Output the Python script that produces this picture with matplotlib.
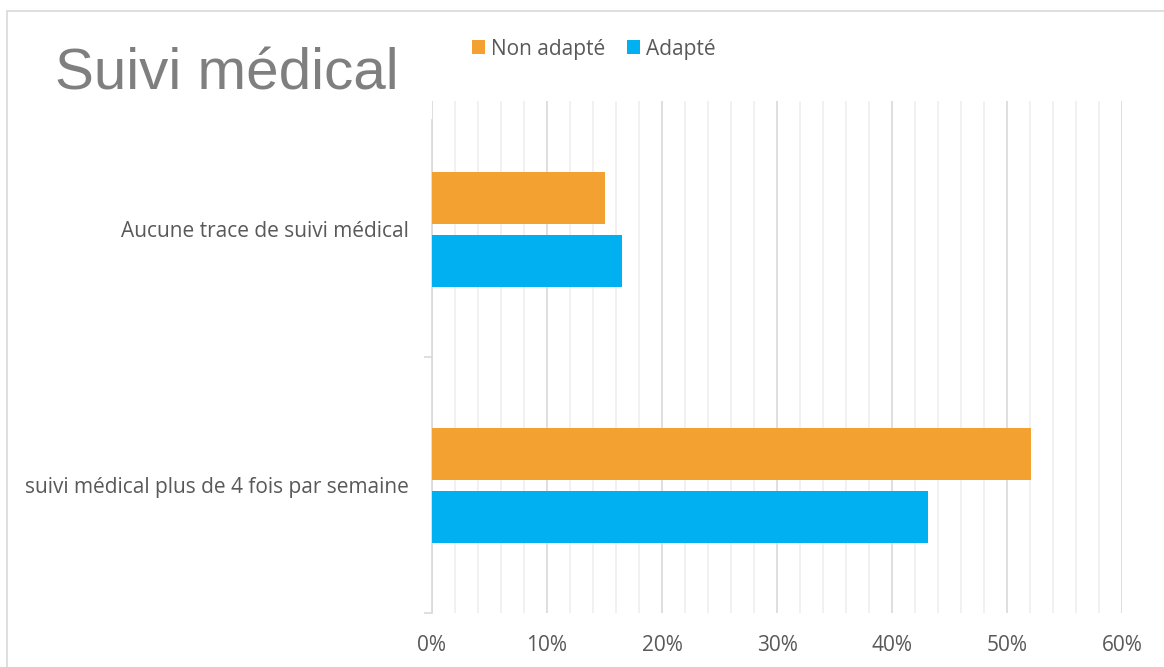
import matplotlib
matplotlib.use("Agg")
import matplotlib.pyplot as plt
from matplotlib.patches import Rectangle
from matplotlib.ticker import MultipleLocator, PercentFormatter

categories = ["Aucune trace de suivi médical", "suivi médical plus de 4 fois par semaine"]
series_names = ["Non adapté", "Adapté"]
non_adapte = [15.0, 52.1]
adapte = [16.5, 43.1]
colors = ["#F3A131", "#00B0F0"]

W, H = 1164, 667
fig = plt.figure(figsize=(W / 100, H / 100), dpi=100)
fig.patch.set_facecolor("white")

# outer chart border
fig.patches.append(Rectangle((7 / W, -0.01), 1.1, 1 - 11 / H + 0.01, transform=fig.transFigure,
                             fill=False, edgecolor="#D9D9D9", linewidth=1.2, zorder=0))

ax = fig.add_axes([432 / W, 1 - 613 / H, (1122 - 432) / W, (613 - 101) / H])
label_font = "Open Sans"
text_col = "#595959"
fs = 15

bar_h = 52 / 256
gap = 11 / 256
ypos = [0, 1]  # 0 = top category (inverted axis)
y_orange = [y - (gap / 2 + bar_h / 2) for y in ypos]
y_blue = [y + (gap / 2 + bar_h / 2) for y in ypos]
ax.barh(y_orange, non_adapte, height=bar_h, color=colors[0], label=series_names[0], zorder=3)
ax.barh(y_blue, adapte, height=bar_h, color=colors[1], label=series_names[1], zorder=3)

ax.set_ylim(1.5, -0.5)
ax.set_xlim(0, 60)
ax.xaxis.set_major_locator(MultipleLocator(10))
ax.xaxis.set_minor_locator(MultipleLocator(2))
ax.xaxis.set_major_formatter(PercentFormatter(decimals=0))
ax.grid(which="major", axis="x", color="#D9D9D9", linewidth=1.2, zorder=0)
ax.grid(which="minor", axis="x", color="#EFEFEF", linewidth=1.2, zorder=0)
ax.tick_params(axis="x", which="both", length=0, pad=16, labelsize=fs, labelcolor=text_col)
for lab in ax.get_xticklabels():
    lab.set_fontfamily(label_font)

ax.set_yticks(ypos)
ax.set_yticklabels(categories, fontfamily=label_font, fontsize=fs, color=text_col)
ax.set_yticks([0.5, 1.5], minor=True)
ax.tick_params(axis="y", which="major", length=0, pad=17)
ax.tick_params(axis="y", which="minor", length=6, color="#D9D9D9", width=1.2)

for s in ["top", "right", "bottom"]:
    ax.spines[s].set_visible(False)
ax.spines["left"].set_color("#D9D9D9")
ax.spines["left"].set_linewidth(1.2)
ax.spines["left"].set_bounds(1.5, -0.5 + 19 / 256)

fig.text(55 / W, 1 - 89 / H, "Suivi médical", fontfamily="Liberation Sans", fontsize=42,
         color="#7F7F7F", ha="left", va="baseline")

leg = fig.legend(loc="center left", bbox_to_anchor=(472 / W, 1 - 49 / H), ncol=2, frameon=False,
                 prop={"family": label_font, "size": fs}, handlelength=0.62, handleheight=0.62,
                 handletextpad=0.3, columnspacing=1.05, borderaxespad=0, borderpad=0)
for t in leg.get_texts():
    t.set_color(text_col)

fig.savefig("out.png", dpi=100, facecolor="white")
